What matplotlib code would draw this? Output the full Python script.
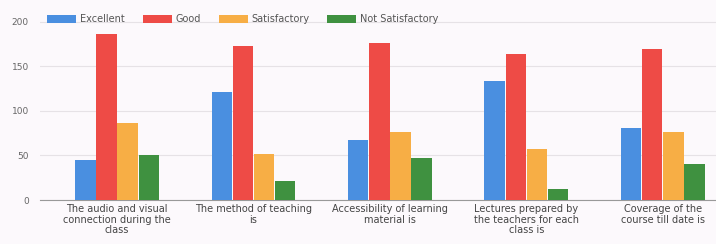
import numpy as np
import matplotlib
matplotlib.use("Agg")
import matplotlib.pyplot as plt

# survey categories and responses
questions = ["The audio and visual\nconnection during the\nclass",
             "The method of teaching\nis",
             "Accessibility of learning\nmaterial is",
             "Lectures prepared by\nthe teachers for each\nclass is",
             "Coverage of the\ncourse till date is"]
ratings = ["Excellent", "Good", "Satisfactory", "Not Satisfactory"]
excellent = [45, 121, 67, 134, 81]
good = [186, 173, 176, 164, 170]
satisfactory = [86, 52, 76, 57, 76]
not_satisfactory = [50, 21, 47, 12, 40]
yticks = [0, 50, 100, 150, 200]

colors = ["#4a8fe0", "#ee4b46", "#f7ae45", "#3f9140"]
bg = "#fcf9fc"

fig = plt.figure(figsize=(7.16, 2.44), dpi=100, facecolor=bg)
ax = fig.add_axes([40/716, 44/244, 676/716, 180/244], facecolor=bg)

x = np.arange(len(questions))
w = 0.155
series = [excellent, good, satisfactory, not_satisfactory]
for i, vals in enumerate(series):
    ax.bar(x + (i - 1.5)*w, vals, width=w*0.97, color=colors[i], label=ratings[i], zorder=3)

ax.set_xlim(-0.565, 4.39)
ax.set_ylim(0, 202)
ax.set_yticks(yticks)
ax.set_yticklabels([str(v) for v in yticks], fontsize=6.5, color="#666666")
ax.set_xticks(x)
ax.set_xticklabels(questions, fontsize=7, color="#444444", linespacing=1.05)
ax.tick_params(length=0, pad=3)
ax.tick_params(axis="y", pad=8)
ax.grid(axis="y", color="#e6e2e6", linewidth=0.8, zorder=0)
for s in ["top", "right", "left"]:
    ax.spines[s].set_visible(False)
ax.spines["bottom"].set_color("#999999")

ax.legend(loc="lower left", bbox_to_anchor=(0.005, 0.955), ncol=4, frameon=False,
          fontsize=7, handlelength=3.0, handleheight=1.0, columnspacing=1.8,
          handletextpad=0.4, labelcolor="#555555", borderaxespad=0)

fig.savefig("out.png", dpi=100, facecolor=bg)
